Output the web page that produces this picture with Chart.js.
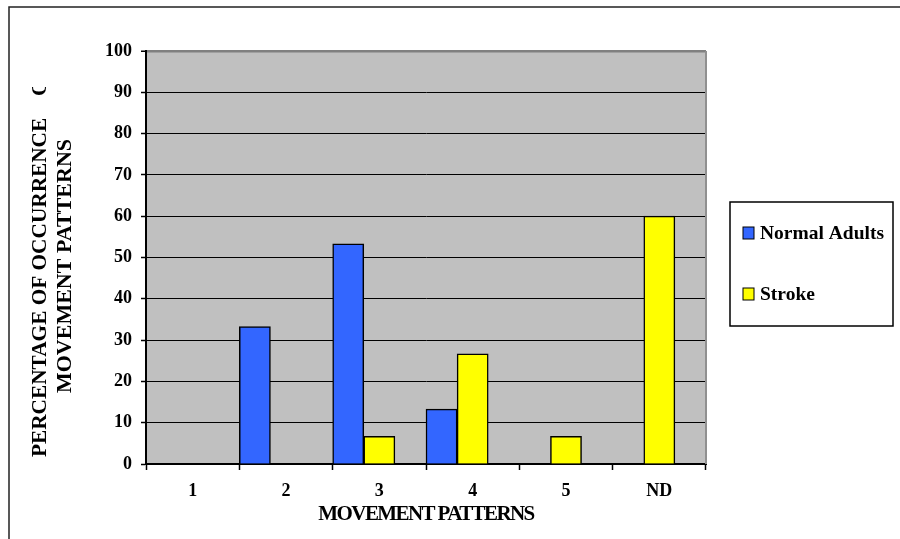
<!DOCTYPE html>
<html>
<head>
<meta charset="utf-8">
<script src="https://cdn.jsdelivr.net/npm/chart.js@4/dist/chart.umd.min.js"></script>
<style>
  html, body { margin: 0; padding: 0; background: #ffffff; }
  canvas { display: block; }
</style>
</head>
<body>
<canvas id="chart" width="900" height="539"></canvas>
<script>
// Movement pattern categories and percentages per group
const categories = ['1', '2', '3', '4', '5', 'ND'];
const normalAdults = [0, 33.3, 53.3, 13.3, 0, 0];
const stroke = [0, 0, 6.7, 26.7, 6.7, 60];
const yTicks = [0, 10, 20, 30, 40, 50, 60, 70, 80, 90, 100];

const xTitle = 'MOVEMENT PATTERNS';
const yTitleMain = 'PERCENTAGE OF OCCURRENCE';
const yTitleTail = 'OF';
const yTitleSecond = 'MOVEMENT PATTERNS';

const FONT = "'Liberation Serif', 'Times New Roman', serif";

// Grey plot background, outer frame, plot border, axis titles and legend
const decorations = {
  id: 'decorations',
  beforeDraw(chart) {
    const { ctx, chartArea: a } = chart;
    ctx.save();
    ctx.fillStyle = '#ffffff';
    ctx.fillRect(0, 0, chart.width, chart.height);
    // outer frame
    ctx.strokeStyle = '#222222';
    ctx.lineWidth = 1.5;
    ctx.strokeRect(9, 7, chart.width + 20, chart.height + 20);
    // plot background
    ctx.fillStyle = '#c0c0c0';
    ctx.fillRect(a.left, a.top, a.right - a.left, a.bottom - a.top);
    ctx.restore();
  },
  afterDraw(chart) {
    const { ctx, chartArea: a } = chart;
    ctx.save();
    // right plot border
    ctx.strokeStyle = '#909090';
    ctx.lineWidth = 2;
    ctx.beginPath();
    ctx.moveTo(a.right, a.top);
    ctx.lineTo(a.right, a.bottom);
    ctx.stroke();

    ctx.fillStyle = '#000000';
    // x axis title (condensed)
    ctx.save();
    ctx.font = 'bold 21px ' + FONT;
    ctx.letterSpacing = '-1.6px';
    ctx.textAlign = 'center';
    ctx.textBaseline = 'middle';
    ctx.fillText(xTitle, (a.left + a.right) / 2, 515);
    ctx.restore();

    // y axis title, first line runs past the top and is cut off
    ctx.font = 'bold 21.3px ' + FONT;
    ctx.textBaseline = 'middle';
    ctx.save();
    ctx.beginPath();
    ctx.rect(0, 87, 146, 460);
    ctx.clip();
    ctx.translate(40, 457);
    ctx.rotate(-Math.PI / 2);
    ctx.textAlign = 'left';
    ctx.fillText(yTitleMain, 0, 0);
    ctx.fillText(yTitleTail, 457 - 96, 0);
    ctx.restore();
    ctx.save();
    ctx.font = 'bold 22px ' + FONT;
    ctx.translate(65, 266);
    ctx.rotate(-Math.PI / 2);
    ctx.textAlign = 'center';
    ctx.fillText(yTitleSecond, 0, 0);
    ctx.restore();

    // legend box
    const lx = 730, ly = 202, lw = 163, lh = 124;
    ctx.fillStyle = '#ffffff';
    ctx.fillRect(lx, ly, lw, lh);
    ctx.strokeStyle = '#000000';
    ctx.lineWidth = 1.5;
    ctx.strokeRect(lx, ly, lw, lh);
    const rows = [233, 294];
    ctx.font = 'bold 19.5px ' + FONT;
    ctx.textAlign = 'left';
    ctx.textBaseline = 'middle';
    chart.data.datasets.filter(ds => ds.label).forEach((ds, i) => {
      const cy = rows[i];
      ctx.fillStyle = ds.backgroundColor;
      ctx.fillRect(743, cy - 6, 11, 12);
      ctx.strokeStyle = '#000000';
      ctx.lineWidth = 1;
      ctx.strokeRect(743, cy - 6, 11, 12);
      ctx.fillStyle = '#000000';
      ctx.fillText(ds.label, 760, cy + 1);
    });
    ctx.restore();
  }
};

const barStyle = {
  borderColor: '#000000',
  borderWidth: 1.5,
  categoryPercentage: 1.0,
  barPercentage: 1.0
};

new Chart(document.getElementById('chart'), {
  type: 'bar',
  data: {
    labels: categories,
    datasets: [
      Object.assign({ label: 'Normal Adults', data: normalAdults, backgroundColor: '#3366ff' }, barStyle),
      Object.assign({ label: 'Stroke', data: stroke, backgroundColor: '#ffff00' }, barStyle),
      // empty slot that leaves the gap after each pair of bars
      Object.assign({ label: '', data: categories.map(() => null), backgroundColor: 'rgba(0,0,0,0)' }, barStyle)
    ]
  },
  options: {
    responsive: false,
    devicePixelRatio: 1,
    animation: false,
    layout: { padding: { top: 51, right: 194, left: 0, bottom: 0 } },
    plugins: {
      legend: { display: false },
      tooltip: { enabled: false },
      title: { display: false }
    },
    scales: {
      x: {
        offset: true,
        grid: {
          offset: true,
          drawOnChartArea: false,
          drawTicks: true,
          tickLength: 6,
          tickColor: '#000000',
          tickWidth: 1.5
        },
        border: { display: true, color: '#000000', width: 2 },
        ticks: {
          color: '#000000',
          font: { family: FONT, size: 18, weight: 'bold' },
          padding: 11,
          maxRotation: 0
        },
        afterFit(scale) { scale.height = 75; }
      },
      y: {
        min: 0,
        max: 100,
        afterBuildTicks(scale) {
          scale.ticks = yTicks.map(v => ({ value: v }));
        },
        grid: {
          color: ctx => (ctx.tick && ctx.tick.value === 100) ? '#808080' : '#000000',
          lineWidth: ctx => (ctx.tick && ctx.tick.value === 100) ? 2.5 : 1,
          tickLength: 5,
          tickColor: '#000000',
          tickWidth: 1.5
        },
        border: { display: true, color: '#000000', width: 2 },
        ticks: {
          color: '#000000',
          font: { family: FONT, size: 18, weight: 'bold' },
          padding: 9
        },
        afterFit(scale) { scale.width = 146; }
      }
    }
  },
  plugins: [decorations]
});
</script>
</body>
</html>
